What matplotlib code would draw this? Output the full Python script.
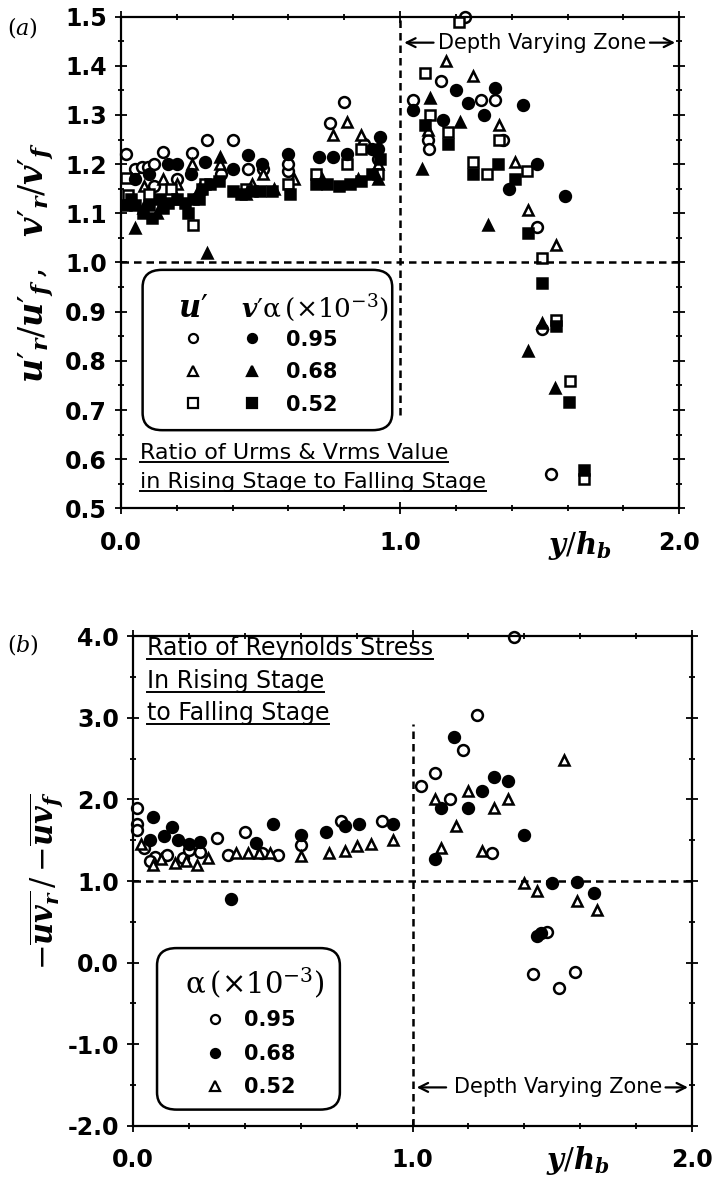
import numpy as np
import matplotlib
matplotlib.use("Agg")
import matplotlib.pyplot as plt
from matplotlib.patches import FancyBboxPatch
from matplotlib.lines import Line2D
from matplotlib.legend_handler import HandlerTuple
from matplotlib.ticker import MultipleLocator, FormatStrFormatter

plt.rcParams['font.family'] = ['DejaVu Sans']
plt.rcParams['mathtext.fontset'] = 'custom'
plt.rcParams['mathtext.rm'] = 'DejaVu Serif'
plt.rcParams['mathtext.it'] = 'DejaVu Serif:italic:bold'
plt.rcParams['mathtext.bf'] = 'DejaVu Serif:bold'

# ---- panel (a): u'r/u'f (open) and v'r/v'f (filled), alpha = 0.95, 0.68, 0.52 ----
u095_x = [0.02, 0.05, 0.075, 0.097, 0.12, 0.15, 0.12, 0.20, 0.255, 0.31, 0.40, 0.455, 0.51, 0.60, 0.60,
          0.75, 0.80, 0.87, 0.92, 0.36,
          1.047, 1.10, 1.105, 1.147, 1.233, 1.29, 1.34, 1.37, 1.49, 1.51, 1.54]
u095_y = [1.22, 1.19, 1.195, 1.195, 1.20, 1.225, 1.155, 1.17, 1.223, 1.25, 1.25, 1.19, 1.19, 1.185, 1.20,
          1.284, 1.327, 1.24, 1.21, 1.18,
          1.33, 1.25, 1.23, 1.37, 1.50, 1.33, 1.33, 1.25, 1.072, 0.865, 0.57]

u068_x = [0.083, 0.15, 0.255, 0.355, 0.47, 0.51, 0.76, 0.81, 0.86, 0.04, 0.20, 0.62, 0.92,
          1.165, 1.26, 1.355, 1.41, 1.46, 1.56, 1.10]
u068_y = [1.155, 1.17, 1.20, 1.20, 1.16, 1.18, 1.26, 1.286, 1.26, 1.13, 1.16, 1.17, 1.20,
          1.41, 1.38, 1.28, 1.205, 1.107, 1.036, 1.27]

u052_x = [0.02, 0.025, 0.258, 0.81, 0.86, 0.60, 0.10, 0.18, 0.30, 0.45, 0.70, 0.92,
          1.09, 1.107, 1.17, 1.21, 1.26, 1.31, 1.355, 1.455, 1.51, 1.56, 1.61, 1.66]
u052_y = [1.172, 1.137, 1.076, 1.20, 1.23, 1.16, 1.14, 1.15, 1.16, 1.15, 1.18, 1.18,
          1.386, 1.30, 1.265, 1.49, 1.205, 1.18, 1.25, 1.185, 1.01, 0.883, 0.76, 0.56]

v095_x = [0.17, 0.20, 0.30, 0.40, 0.455, 0.505, 0.60, 0.71, 0.76, 0.81, 0.90, 0.92, 0.93, 0.05, 0.25, 0.10,
          1.046, 1.155, 1.20, 1.245, 1.30, 1.34, 1.39, 1.44, 1.49, 1.59]
v095_y = [1.20, 1.20, 1.205, 1.19, 1.219, 1.20, 1.22, 1.215, 1.215, 1.22, 1.23, 1.23, 1.255, 1.17, 1.18, 1.18,
          1.31, 1.29, 1.35, 1.325, 1.30, 1.355, 1.15, 1.32, 1.20, 1.135]

v068_x = [0.05, 0.31, 0.355, 0.08, 0.13, 0.20, 0.28, 0.45, 0.55, 0.72, 0.85, 0.92,
          1.08, 1.107, 1.215, 1.315, 1.46, 1.51, 1.556]
v068_y = [1.07, 1.02, 1.215, 1.11, 1.10, 1.13, 1.15, 1.14, 1.15, 1.17, 1.17, 1.17,
          1.19, 1.335, 1.286, 1.076, 0.82, 0.877, 0.744]

v052_x = [0.02, 0.05, 0.08, 0.10, 0.14, 0.17, 0.20, 0.23, 0.26, 0.29, 0.32, 0.35, 0.40, 0.43, 0.47, 0.50,
          0.54, 0.605, 0.70, 0.74, 0.78, 0.82, 0.86, 0.90, 0.93, 0.11, 0.24, 0.035, 0.15, 0.28,
          1.09, 1.17, 1.26, 1.35, 1.41, 1.46, 1.51, 1.56, 1.605, 1.66]
v052_y = [1.117, 1.117, 1.10, 1.117, 1.13, 1.12, 1.13, 1.12, 1.13, 1.15, 1.16, 1.165, 1.145, 1.14, 1.145, 1.145,
          1.145, 1.14, 1.16, 1.16, 1.155, 1.16, 1.165, 1.18, 1.21, 1.09, 1.10, 1.13, 1.11, 1.13,
          1.28, 1.24, 1.18, 1.20, 1.17, 1.06, 0.958, 0.87, 0.716, 0.577]

# ---- panel (b): Reynolds stress ratio ----
b095_x = [0.013, 0.013, 0.013, 0.04, 0.08, 0.12, 0.18, 0.24, 0.30, 0.34, 0.40, 0.46, 0.52, 0.60, 0.745, 0.89,
          0.06, 0.20,
          1.03, 1.08, 1.135, 1.18, 1.23, 1.285, 1.364, 1.43, 1.48, 1.525, 1.58]
b095_y = [1.89, 1.70, 1.62, 1.40, 1.30, 1.32, 1.28, 1.35, 1.53, 1.32, 1.60, 1.34, 1.32, 1.44, 1.74, 1.74,
          1.25, 1.38,
          2.16, 2.32, 2.01, 2.61, 3.03, 1.34, 3.99, -0.14, 0.38, -0.31, -0.12]

b068_x = [0.07, 0.11, 0.14, 0.16, 0.20, 0.24, 0.35, 0.44, 0.50, 0.60, 0.69, 0.76, 0.81, 0.93, 0.06,
          1.08, 1.10, 1.15, 1.20, 1.25, 1.29, 1.34, 1.40, 1.446, 1.46, 1.50, 1.59, 1.65]
b068_y = [1.78, 1.55, 1.66, 1.50, 1.45, 1.48, 0.78, 1.47, 1.70, 1.56, 1.60, 1.68, 1.70, 1.70, 1.50,
          1.27, 1.89, 2.76, 1.90, 2.11, 2.28, 2.23, 1.57, 0.33, 0.36, 0.98, 0.99, 0.85]

b052_x = [0.03, 0.07, 0.10, 0.15, 0.19, 0.23, 0.27, 0.37, 0.41, 0.45, 0.49, 0.60, 0.70, 0.76, 0.80, 0.93, 0.85,
          1.08, 1.10, 1.155, 1.20, 1.25, 1.29, 1.34, 1.40, 1.446, 1.54, 1.59, 1.66]
b052_y = [1.45, 1.20, 1.27, 1.22, 1.25, 1.20, 1.28, 1.34, 1.34, 1.34, 1.34, 1.31, 1.34, 1.37, 1.43, 1.50, 1.45,
          2.00, 1.41, 1.67, 2.11, 1.37, 1.90, 2.00, 0.98, 0.88, 2.49, 0.76, 0.64]

alpha_labels = ['0.95', '0.68', '0.52']

fig = plt.figure(figsize=(7.15, 11.85), dpi=100)
axa = fig.add_axes([0.169, 0.571, 0.781, 0.415])
axb = fig.add_axes([0.186, 0.050, 0.782, 0.413])

mk = dict(linestyle='none', markersize=7.8, markeredgecolor='black', markeredgewidth=1.8, clip_on=False)

def style_axes(ax, ylo, yhi, ymaj, ymin):
    ax.set_xlim(0, 2.0)
    ax.set_ylim(ylo, yhi)
    ax.xaxis.set_major_locator(MultipleLocator(1.0))
    ax.xaxis.set_minor_locator(MultipleLocator(0.2))
    ax.yaxis.set_major_locator(MultipleLocator(ymaj))
    ax.yaxis.set_minor_locator(MultipleLocator(ymin))
    ax.xaxis.set_major_formatter(FormatStrFormatter('%.1f'))
    ax.yaxis.set_major_formatter(FormatStrFormatter('%.1f'))
    for s in ax.spines.values():
        s.set_linewidth(1.6)
    ax.tick_params(which='both', direction='inout', top=True, right=True, width=1.3)
    ax.tick_params(which='major', length=8, labelsize=17, pad=6)
    ax.tick_params(which='minor', length=5)
    ax.tick_params(axis='x', pad=12)
    for lab in ax.get_xticklabels() + ax.get_yticklabels():
        lab.set_fontweight('bold')

def proxy(h):
    return Line2D([], [], linestyle='none', marker=h.get_marker(), markersize=6.5,
                  markerfacecolor=h.get_markerfacecolor(), markeredgecolor='black', markeredgewidth=1.6)

dash = dict(color='black', linewidth=1.8, linestyle=(0, (3, 2)))
arr = dict(arrowstyle='->', color='black', lw=1.6, mutation_scale=16)

# ---------- panel (a) ----------
style_axes(axa, 0.5, 1.5, 0.1, 0.05)

h_u095, = axa.plot(u095_x, u095_y, 'o', markerfacecolor='white', **mk)
h_u068, = axa.plot(u068_x, u068_y, '^', markerfacecolor='white', **mk)
h_u052, = axa.plot(u052_x, u052_y, 's', markerfacecolor='white', **mk)
h_v095, = axa.plot(v095_x, v095_y, 'o', markerfacecolor='black', **mk)
h_v068, = axa.plot(v068_x, v068_y, '^', markerfacecolor='black', **mk)
h_v052, = axa.plot(v052_x, v052_y, 's', markerfacecolor='black', **mk)

axa.axhline(1.0, **dash)
axa.plot([1.0, 1.0], [0.69, 1.5], **dash)

axa.text(1.51, 1.447, 'Depth Varying Zone', ha='center', va='center', fontsize=15)
axa.annotate('', xy=(1.005, 1.447), xytext=(1.13, 1.447), arrowprops=arr)
axa.annotate('', xy=(1.995, 1.447), xytext=(1.885, 1.447), arrowprops=arr)

ta1 = axa.text(0.034, 0.112, 'Ratio of Urms & Vrms Value', transform=axa.transAxes,
               fontsize=16, ha='left', va='center')
ta2 = axa.text(0.034, 0.053, 'in Rising Stage to Falling Stage', transform=axa.transAxes,
               fontsize=16, ha='left', va='center')

boxa = FancyBboxPatch((0.039, 0.159), 0.447, 0.326, boxstyle='round,pad=0,rounding_size=0.035',
                      transform=axa.transAxes, facecolor='white', edgecolor='black', linewidth=1.8, zorder=3)
axa.add_patch(boxa)
axa.text(0.130, 0.407, r"$u\prime$", transform=axa.transAxes, fontsize=22, ha='center', va='center', zorder=4)
axa.text(0.215, 0.407, r"$v\prime\mathrm{\alpha}\,(\mathrm{\times10^{-3}})$", transform=axa.transAxes,
         fontsize=19, ha='left', va='center', zorder=4)

lega = axa.legend([(proxy(h_u095), proxy(h_v095)), (proxy(h_u068), proxy(h_v068)), (proxy(h_u052), proxy(h_v052))],
                  alpha_labels, handler_map={tuple: HandlerTuple(ndivide=None, pad=1.4)},
                  loc='center', bbox_to_anchor=(0.245, 0.277), bbox_transform=axa.transAxes,
                  frameon=False, fontsize=15, handlelength=4.3, handletextpad=0.9,
                  labelspacing=0.6, borderpad=0, borderaxespad=0, numpoints=1)
for t in lega.get_texts():
    t.set_fontweight('bold')
lega.set_zorder(5)

axa.text(-0.176, 0.978, r'$(a)$', transform=axa.transAxes, fontsize=16, ha='center', va='center',
         math_fontfamily='dejavuserif')
axa.set_ylabel(r"$u\prime_r/u\prime_f\,,\ \ v\prime_r/v\prime_f$", fontsize=24)
axa.yaxis.set_label_coords(-0.115, 0.5)
axa.text(1.645, -0.075, r'$y/h_b$', transform=axa.get_xaxis_transform(), fontsize=21, ha='center', va='center')

# ---------- panel (b) ----------
style_axes(axb, -2.0, 4.0, 1.0, 0.5)

h_b095, = axb.plot(b095_x, b095_y, 'o', markerfacecolor='white', **mk)
h_b068, = axb.plot(b068_x, b068_y, 'o', markerfacecolor='black', **mk)
h_b052, = axb.plot(b052_x, b052_y, '^', markerfacecolor='white', **mk)

axb.axhline(1.0, **dash)
axb.plot([1.0, 1.0], [-2.0, 2.93], **dash)

axb.text(1.52, -1.53, 'Depth Varying Zone', ha='center', va='center', fontsize=15)
axb.annotate('', xy=(1.005, -1.53), xytext=(1.13, -1.53), arrowprops=arr)
axb.annotate('', xy=(1.995, -1.53), xytext=(1.895, -1.53), arrowprops=arr)

tb1 = axb.text(0.025, 0.976, 'Ratio of Reynolds Stress', transform=axb.transAxes, fontsize=17, ha='left', va='center')
tb2 = axb.text(0.025, 0.908, 'In Rising Stage', transform=axb.transAxes, fontsize=17, ha='left', va='center')
tb3 = axb.text(0.025, 0.843, 'to Falling Stage', transform=axb.transAxes, fontsize=17, ha='left', va='center')

boxb = FancyBboxPatch((0.043, 0.033), 0.327, 0.330, boxstyle='round,pad=0,rounding_size=0.035',
                      transform=axb.transAxes, facecolor='white', edgecolor='black', linewidth=1.8, zorder=3)
axb.add_patch(boxb)
axb.text(0.218, 0.292, r"$\mathrm{\alpha}\,(\mathrm{\times10^{-3}})$", transform=axb.transAxes,
         fontsize=21, ha='center', va='center', zorder=4)
legb = axb.legend([proxy(h_b095), proxy(h_b068), proxy(h_b052)], alpha_labels,
                  loc='center', bbox_to_anchor=(0.21, 0.147), bbox_transform=axb.transAxes,
                  frameon=False, fontsize=15, handlelength=1.0, handletextpad=0.9,
                  labelspacing=0.64, borderpad=0, borderaxespad=0, numpoints=1)
for t in legb.get_texts():
    t.set_fontweight('bold')
legb.set_zorder(5)

axb.text(-0.197, 0.984, r'$(b)$', transform=axb.transAxes, fontsize=16, ha='center', va='center',
         math_fontfamily='dejavuserif')
axb.set_ylabel(r"$\mathrm{-}\overline{uv_r}\,/\,\mathrm{-}\overline{uv_f}$", fontsize=22)
axb.yaxis.set_label_coords(-0.12, 0.5)
axb.text(1.59, -0.07, r'$y/h_b$', transform=axb.get_xaxis_transform(), fontsize=21, ha='center', va='center')

# underline the caption texts
fig.canvas.draw()
rend = fig.canvas.get_renderer()
for t in [ta1, ta2, tb1, tb2, tb3]:
    bb = t.get_window_extent(rend)
    fig.add_artist(Line2D([bb.x0, bb.x1], [bb.y0 + 1, bb.y0 + 1], transform=None, color='black', linewidth=1.4))

fig.savefig('out.png', dpi=100)
